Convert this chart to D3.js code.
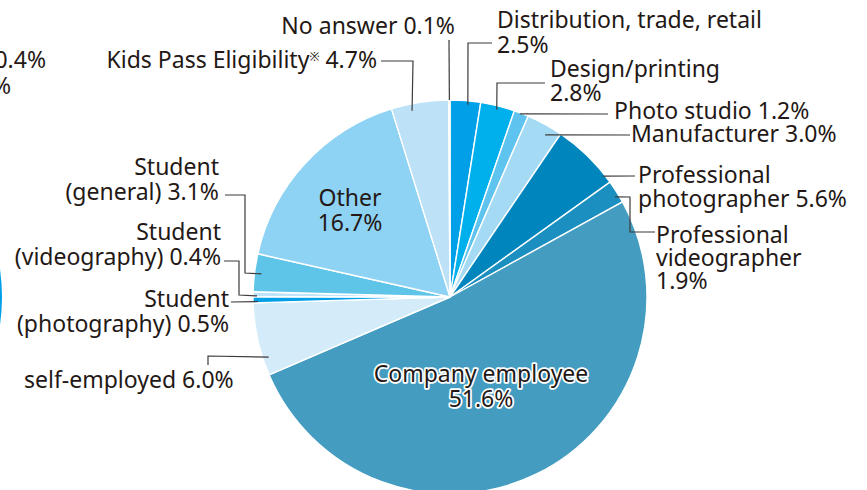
<!DOCTYPE html>
<html>
<head>
<meta charset="utf-8">
<script src="https://cdn.jsdelivr.net/npm/d3@7/dist/d3.min.js"></script>
<style>
  html, body { margin: 0; padding: 0; background: #fff; }
  svg { display: block; }
  text { font-family: "Noto Sans", "Open Sans", sans-serif; fill: #231815; }
</style>
</head>
<body>
<svg width="867" height="490"></svg>
<script>
// pie data, clockwise from 12 o'clock
var categories = ["Distribution, trade, retail", "Design/printing", "Photo studio", "Manufacturer",
  "Professional photographer", "Professional videographer", "Company employee", "self-employed",
  "Student (photography)", "Student (videography)", "Student (general)", "Other",
  "Kids Pass Eligibility", "No answer"];
var values = [2.5, 2.8, 1.2, 3.0, 5.6, 1.9, 51.6, 6.0, 0.5, 0.4, 3.1, 16.7, 4.7, 0.1];
var colors = ["#00a0e9", "#00b0ec", "#5ec4ef", "#a5daf4", "#0086bd", "#1a8fc0", "#449dc1", "#d4ecf9",
  "#00a0e9", "#bfe3f7", "#5ec4e8", "#8fd3f4", "#bde1f6", "#d6edf9"];

// label text lines per slice (same order)
var labelLines = [
  ["Distribution, trade, retail", "2.5%"],
  ["Design/printing", "2.8%"],
  ["Photo studio 1.2%"],
  ["Manufacturer 3.0%"],
  ["Professional", "photographer 5.6%"],
  ["Professional", "videographer", "1.9%"],
  ["Company employee", "51.6%"],
  ["self-employed 6.0%"],
  ["Student", "(photography) 0.5%"],
  ["Student", "(videography) 0.4%"],
  ["Student", "(general) 3.1%"],
  ["Other", "16.7%"],
  ["Kids Pass Eligibility", "※", " 4.7%"],
  ["No answer 0.1%"]
];

var svg = d3.select("svg"),
    cx = 450, cy = 297, radius = 197,
    fontSize = "23px";

// label layout: x, first baseline, line gap, anchor, leader elbows, where leader hits the slice
var layout = [
  {x: 497, y: 28, dy: 25, anchor: "start", elbows: [[492, 43], [468, 43]], t: 0.59, rr: 193},
  {x: 550, y: 77, dy: 24, anchor: "start", elbows: [[545, 83], [497, 83]], t: 0.5, rr: 193},
  {x: 614, y: 119, dy: 24, anchor: "start", elbows: [[608, 114]], t: 0.42, rr: 196},
  {x: 631, y: 142, dy: 24, anchor: "start", elbows: [[630, 135]], t: 0.65, rr: 188},
  {x: 638, y: 183, dy: 24, anchor: "start", elbows: [[635, 176]], t: 0.87, rr: 195},
  {x: 656, y: 243, dy: 23, anchor: "start", elbows: [[655, 232], [630, 232], [630, 197]], t: 0.65, rr: 193},
  {x: 481, y: 382, dy: 25, anchor: "middle", inside: true, halo: true},
  {x: 24, y: 388, dy: 24, anchor: "start", elbows: [[208, 365], [208, 356]], t: 0.23, rr: 191},
  {x: 229, y: 307, dy: 25, anchor: "end", elbows: [[231, 302]], t: 0.2, rr: 192},
  {x: 221, y: 240, dy: 25, anchor: "end", elbows: [[224, 261], [239, 261], [239, 295]], t: 0.15, rr: 193},
  {x: 219, y: 175, dy: 25, anchor: "end", elbows: [[225, 195], [245, 195], [245, 273]], t: 0.49, rr: 190},
  {x: 350, y: 206, dy: 25, anchor: "middle", inside: true},
  {x: 377, y: 68, dy: 24, anchor: "end", inline: true, elbows: [[381, 61], [413, 61]], t: 0.34, rr: 190},
  {x: 455, y: 34, dy: 24, anchor: "end", elbows: [[449, 40]], t: 0.5, rr: 197}
];

// clipped neighbour chart at the left edge
svg.append("circle").attr("cx", -194).attr("cy", cy).attr("r", 196).attr("fill", "#00a0e9");
svg.append("text").attr("x", 46).attr("y", 68).attr("text-anchor", "end")
  .style("font-size", fontSize).text("0.4%");
svg.append("text").attr("x", 11).attr("y", 94).attr("text-anchor", "end")
  .style("font-size", fontSize).text("%");

var pie = d3.pie().sort(null).value(function(d) { return d; });
var arcs = pie(values);

var arc = d3.arc().innerRadius(0).outerRadius(radius);

var g = svg.append("g").attr("transform", "translate(" + cx + "," + cy + ")");

g.selectAll("path.slice")
  .data(arcs)
  .enter().append("path")
    .attr("class", "slice")
    .attr("d", arc)
    .attr("fill", function(d, i) { return colors[i]; })
    .attr("stroke", "#fff")
    .attr("stroke-width", 1.4)
    .attr("stroke-linejoin", "round");

function pointOn(d, t, rr) {
  var a = d.startAngle + (d.endAngle - d.startAngle) * t;
  return [cx + rr * Math.sin(a), cy - rr * Math.cos(a)];
}

// leader lines
var line = d3.line();
layout.forEach(function(l, i) {
  if (!l.elbows) return;
  var pts = l.elbows.slice();
  pts.push(pointOn(arcs[i], l.t, l.rr));
  svg.append("path")
    .attr("d", line(pts))
    .attr("fill", "none")
    .attr("stroke", "#3e3a39")
    .attr("stroke-width", 1.2);
});

// labels
layout.forEach(function(l, i) {
  var t = svg.append("text")
    .attr("text-anchor", l.anchor)
    .style("font-size", fontSize);
  if (l.halo) {
    t.style("stroke", "#fff").style("stroke-width", "3.5px")
     .style("stroke-linejoin", "round").style("paint-order", "stroke");
  }
  if (l.inline) {
    var parts = labelLines[i];
    t.attr("x", l.x).attr("y", l.y);
    t.append("tspan").text(parts[0]);
    t.append("tspan").attr("dy", -7).style("font-size", "12px").text(parts[1]);
    t.append("tspan").attr("dy", 7).text(parts[2]);
    return;
  }
  labelLines[i].forEach(function(s, k) {
    t.append("tspan").attr("x", l.x).attr("y", l.y + k * l.dy).text(s);
  });
});
</script>
</body>
</html>
